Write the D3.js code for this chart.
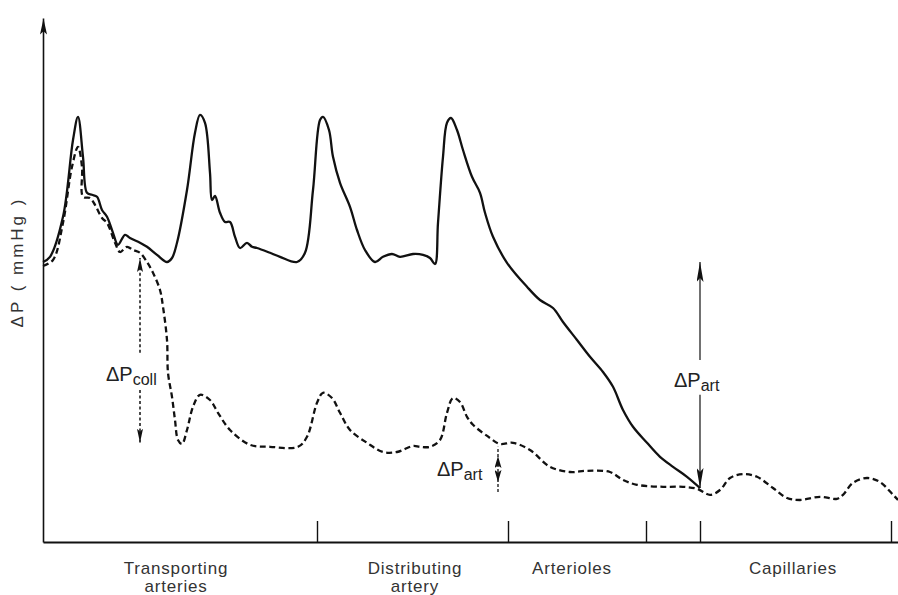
<!DOCTYPE html>
<html>
<head>
<meta charset="utf-8">
<title>Pressure along the arterial tree</title>
<script src="https://cdn.jsdelivr.net/npm/d3@7"></script>
<style>
    body { margin: 0; background: #fff; }
    #chart-area text { font-family: "Liberation Sans", Arial, sans-serif; }
</style>
</head>
<body>
<div id="chart-area"></div>
<script>

// distance along the tree (arbitrary units) and pressure (arbitrary units)
// solid curve: normal pressure
let normalPressure = [
    [0, 70], [7, 71.3], [20, 81.3], [30, 100.5], [35, 106.3], [40, 96.3], [44, 87.3], [49, 86.8],
    [54, 86.3], [59, 83], [64, 81.3], [70, 77.3], [75, 74.3], [82, 76.8], [87, 76], [97, 74.8],
    [104, 73.8], [114, 71.8], [124, 70], [129, 71], [134, 74.8], [144, 88], [152, 102.3], [157, 106.8],
    [162, 104.8], [167, 92.3], [169, 85.5], [172, 86.5], [177, 82.3], [182, 80], [187, 80], [192, 76.3],
    [197, 73.5], [204, 74.8], [209, 73.8], [214, 73.5], [227, 72.3], [237, 71.3], [254, 70], [262, 72.3],
    [270, 88], [277, 105.5], [280, 106.3], [286, 103], [290, 96.3], [297, 89.8], [307, 83.8], [314, 78],
    [322, 73], [332, 70], [340, 71.3], [349, 72], [357, 71.3], [370, 72], [380, 71.8], [387, 71],
    [392, 69.5], [395, 79.8], [400, 96.3], [404, 104.8], [408, 106], [414, 103], [420, 98], [429, 91.3],
    [437, 87.3], [442, 82.3], [450, 76.3], [464, 69.8], [484, 63.8], [497, 60.5], [510, 58.5], [520, 55],
    [534, 50.5], [547, 46.3], [560, 42.5], [570, 38.8], [580, 33], [590, 28.8], [604, 24.8], [617, 21.3],
    [630, 18.8], [644, 16.3], [657, 13.5]
];

// dashed curve: pressure with collateral obstruction
let obstructedPressure = [
    [0, 69], [10, 70.5], [20, 79.8], [29, 93.8], [35, 98.8], [39, 93.8], [40, 86.3], [47, 86],
    [52, 84.3], [59, 81], [64, 79.8], [72, 74.8], [77, 72.5], [84, 73.8], [90, 73], [97, 72.3],
    [104, 70], [110, 67.3], [117, 63], [120, 58.8], [124, 50.5], [125, 42.3], [129, 36.3], [132, 30.5],
    [135, 25.5], [139, 24.5], [144, 28], [150, 33.8], [157, 36.8], [167, 35.5], [175, 32.3], [187, 28],
    [207, 24.3], [227, 23.8], [255, 23.8], [264, 26.3], [274, 34.8], [280, 37.3], [289, 36], [297, 32.3],
    [307, 28], [324, 24.8], [340, 22.5], [354, 22.5], [370, 24], [377, 23.8], [387, 23.8], [397, 25.5],
    [404, 32.3], [410, 36], [417, 35], [424, 31.3], [430, 29.3], [447, 26], [457, 24.5], [470, 24.8],
    [487, 23], [507, 18.8], [527, 17.5], [544, 17.8], [567, 17.5], [580, 15.5], [594, 14.3], [620, 13.8],
    [640, 13.8], [654, 13.3], [667, 11.8], [677, 13], [687, 16], [700, 17], [714, 16.3], [730, 13.5],
    [744, 11], [757, 10.5], [777, 11.3], [794, 10.8], [800, 11.8], [810, 14.8], [824, 16], [837, 15],
    [850, 11.8], [855, 10.5]
];

// segment boundaries on the distance axis
let segmentTicks = [274, 465, 603, 657, 848];
let segmentCentres = [133, 372, 529, 750];
let segmentLabels = [["Transporting", "arteries"], ["Distributing", "artery"], ["Arterioles"], ["Capillaries"]];

// pressure differences: x, top, bottom, label gap (top, bottom)
let deltaColl = {x: 97, top: 71, bottom: 24.8, gap: [47.3, 38], sub: "coll"};
let deltaArtLarge = {x: 657, top: 70, bottom: 13.5, gap: [45.5, 36.8], sub: "art"};
let deltaArtSmall = {x: 455, top: 23.8, bottom: 12.5, mid: 18.3, headTop: 21.5, headBottom: 15, sub: "art"};


class PressureVis {

    constructor(parentElement) {
        this.parentElement = parentElement;
        this.initVis();
    }

    initVis() {
        let vis = this;

        vis.margin = {top: 18, right: 0, bottom: 53, left: 43};
        vis.width = 898 - vis.margin.left - vis.margin.right;
        vis.height = 595 - vis.margin.top - vis.margin.bottom;

        vis.root = d3.select("#" + vis.parentElement).append("svg")
            .attr("width", 898)
            .attr("height", 595);

        vis.svg = vis.root.append("g")
            .attr("transform", "translate(" + vis.margin.left + "," + vis.margin.top + ")");

        // arrow heads
        let defs = vis.root.append("defs");
        let heads = [
            {id: "head-axis", w: 7, l: 16},
            {id: "head-big", w: 7, l: 20},
            {id: "head-small", w: 6, l: 14},
            {id: "head-stub", w: 7, l: 12}
        ];
        heads.forEach(h => {
            defs.append("marker")
                .attr("id", h.id)
                .attr("markerUnits", "userSpaceOnUse")
                .attr("viewBox", "0 0 " + h.l + " " + h.w)
                .attr("refX", h.l)
                .attr("refY", h.w / 2)
                .attr("markerWidth", h.l)
                .attr("markerHeight", h.w)
                .attr("orient", "auto")
                .append("path")
                .attr("d", "M0,0L" + h.l + "," + (h.w / 2) + "L0," + h.w + "L" + (h.l * 0.2) + "," + (h.w / 2) + "Z")
                .attr("fill", "#111");
        });

        vis.xScale = d3.scaleLinear()
            .domain([0, 855])
            .range([0, vis.width]);

        vis.yScale = d3.scaleLinear()
            .domain([0, 131])
            .range([vis.height, 0]);

        vis.line = d3.line()
            .curve(d3.curveCatmullRom.alpha(0.5))
            .x(d => vis.xScale(d[0]))
            .y(d => vis.yScale(d[1]));

        vis.updateVis();
    }

    updateVis() {
        let vis = this;

        // x axis with upward segment ticks
        let xAxis = d3.axisBottom(vis.xScale)
            .tickValues(segmentTicks)
            .tickSizeInner(-21)
            .tickSizeOuter(0)
            .tickFormat("");

        let xg = vis.svg.append("g")
            .attr("class", "axis x-axis")
            .attr("transform", "translate(0," + vis.height + ")")
            .call(xAxis);
        xg.select(".domain").attr("stroke", "#111").attr("stroke-width", 1.8);
        xg.selectAll(".tick line").attr("stroke", "#111").attr("stroke-width", 1.4);

        // y axis: plain line with arrow
        let yAxis = d3.axisLeft(vis.yScale)
            .tickValues([])
            .tickSizeOuter(0);

        let yg = vis.svg.append("g")
            .attr("class", "axis y-axis")
            .call(yAxis);
        yg.select(".domain")
            .attr("stroke", "#111")
            .attr("stroke-width", 1.6)
            .attr("marker-end", "url(#head-axis)");

        // y axis title
        vis.root.append("text")
            .attr("transform", "translate(23,262) rotate(-90)")
            .attr("text-anchor", "middle")
            .attr("font-size", 17)
            .attr("letter-spacing", 3)
            .attr("fill", "#333")
            .text("\u0394P ( mmHg )");

        // segment labels
        segmentLabels.forEach((lines, i) => {
            let t = vis.svg.append("text")
                .attr("text-anchor", "middle")
                .attr("font-size", 17)
                .attr("letter-spacing", 0.8)
                .attr("fill", "#333")
                .attr("y", vis.height + 32);
            lines.forEach((s, j) => {
                t.append("tspan")
                    .attr("x", vis.xScale(segmentCentres[i]))
                    .attr("dy", j === 0 ? 0 : 18)
                    .text(s);
            });
        });

        // curves
        vis.svg.append("path")
            .datum(obstructedPressure)
            .attr("class", "line-obstructed")
            .attr("d", vis.line)
            .attr("fill", "none")
            .attr("stroke", "#111")
            .attr("stroke-width", 2.3)
            .attr("stroke-dasharray", "6,3.5");

        vis.svg.append("path")
            .datum(normalPressure)
            .attr("class", "line-normal")
            .attr("d", vis.line)
            .attr("fill", "none")
            .attr("stroke", "#111")
            .attr("stroke-width", 2.3);

        // delta P collateral (dashed)
        vis.drawArrow(deltaColl.x, deltaColl.gap[0], deltaColl.top, "head-small", "3,2.5", 1.5);
        vis.drawArrow(deltaColl.x, deltaColl.gap[1], deltaColl.bottom, "head-small", "3,2.5", 1.5);
        vis.drawLabel(vis.xScale(deltaColl.x) - 34, vis.yScale(deltaColl.gap[1]) - 9, deltaColl.sub);

        // delta P arterial (large)
        vis.drawArrow(deltaArtLarge.x, deltaArtLarge.gap[0], deltaArtLarge.top, "head-big", null, 1.2);
        vis.drawArrow(deltaArtLarge.x, deltaArtLarge.gap[1], deltaArtLarge.bottom, "head-big", null, 1.2);
        vis.drawLabel(vis.xScale(deltaArtLarge.x) - 26, vis.yScale(deltaArtLarge.gap[1]) - 8, deltaArtLarge.sub);

        // delta P arterial (small): thin dashed stem with two heads meeting in the middle
        vis.drawArrow(deltaArtSmall.x, deltaArtSmall.bottom, deltaArtSmall.top, null, "3,2", 1.3);
        vis.drawArrow(deltaArtSmall.x, deltaArtSmall.mid, deltaArtSmall.headTop, "head-stub", null, 0);
        vis.drawArrow(deltaArtSmall.x, deltaArtSmall.mid, deltaArtSmall.headBottom, "head-stub", null, 0);
        vis.drawLabel(vis.xScale(deltaArtSmall.x) - 61, vis.yScale(deltaArtSmall.mid) + 7, deltaArtSmall.sub);
    }

    drawArrow(x, yFrom, yTo, head, dash, sw) {
        let vis = this;
        vis.svg.append("line")
            .attr("x1", vis.xScale(x))
            .attr("x2", vis.xScale(x))
            .attr("y1", vis.yScale(yFrom))
            .attr("y2", vis.yScale(yTo))
            .attr("stroke", "#111")
            .attr("stroke-width", sw)
            .attr("stroke-dasharray", dash)
            .attr("marker-end", head ? "url(#" + head + ")" : null);
    }

    drawLabel(x, y, sub) {
        let vis = this;
        let t = vis.svg.append("text")
            .attr("x", x)
            .attr("y", y)
            .attr("font-size", 20)
            .attr("fill", "#222");
        t.append("tspan").text("\u0394P");
        t.append("tspan")
            .attr("font-size", 16)
            .attr("dy", 4)
            .text(sub);
    }
}

let pressureVis = new PressureVis("chart-area");

</script>
</body>
</html>
